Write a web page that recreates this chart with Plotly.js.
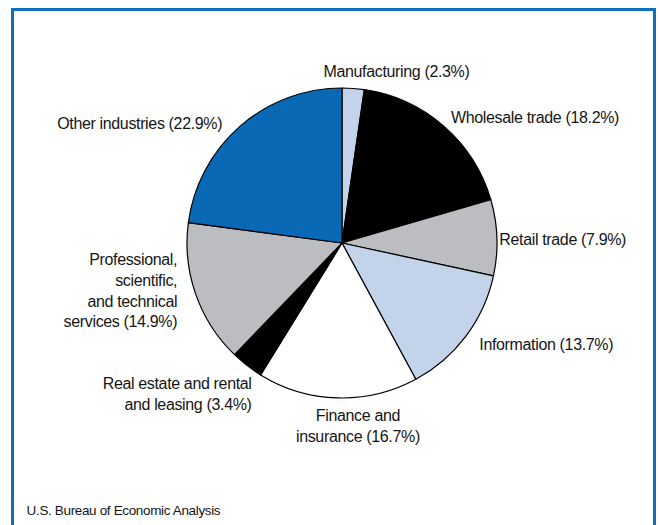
<!DOCTYPE html>
<html>
<head>
<meta charset="utf-8">
<script src="https://cdn.plot.ly/plotly-3.0.1.min.js"></script>
<style>html,body{margin:0;padding:0;background:#fff;}#chart{width:660px;height:525px;}
#chart text.annotation-text{letter-spacing:-0.35px;}</style>
</head>
<body>
<div id="chart"></div>
<script>
const industries = ["Manufacturing", "Wholesale trade", "Retail trade", "Information", "Finance and insurance", "Real estate and rental and leasing", "Professional, scientific, and technical services", "Other industries"];
const shares = [2.3, 18.2, 7.9, 13.7, 16.7, 3.4, 14.9, 22.9];
const sliceColors = ["#c3d3ea", "#000000", "#bbbdc0", "#c3d3ea", "#ffffff", "#000000", "#bbbdc0", "#0a69b4"];
const labelTexts = ["Manufacturing (2.3%)", "Wholesale trade (18.2%)", "Retail trade (7.9%)", "Information (13.7%)", "Finance and<br>insurance (16.7%)", "Real estate and rental<br>and leasing (3.4%)", "Professional,<br>scientific,<br>and technical<br>services (14.9%)", "Other industries (22.9%)"];
const sourceText = "U.S. Bureau of Economic Analysis";

const W = 660, H = 525;
// label anchor positions in pixels (x, y, xanchor, align)
const labelPos = [
  [396, 71, "center", "center"],
  [535, 117, "center", "center"],
  [562, 239, "center", "center"],
  [546, 344, "center", "center"],
  [358, 426, "center", "center"],
  [254, 394, "right", "right"],
  [179, 290, "right", "right"],
  [139, 123, "center", "center"]
];

const font = {family: "Liberation Sans, Arial, sans-serif", size: 16, color: "#151515"};

const annotations = labelTexts.map((t, i) => ({
  text: t, xref: "paper", yref: "paper",
  x: labelPos[i][0] / W, y: 1 - labelPos[i][1] / H,
  xanchor: labelPos[i][2], yanchor: "middle", align: labelPos[i][3],
  showarrow: false, font: font
}));
annotations.push({
  text: sourceText, xref: "paper", yref: "paper",
  x: 19 / W, y: 1 - 510 / H, xanchor: "left", yanchor: "middle",
  showarrow: false, font: {family: "Liberation Sans, Arial, sans-serif", size: 13.5, color: "#151515"}
});

const cx = 342, cy = 243, r = 155;
const data = [{
  type: "pie",
  labels: industries,
  values: shares,
  sort: false,
  direction: "clockwise",
  rotation: 0,
  textinfo: "none",
  hoverinfo: "label+percent",
  marker: {colors: sliceColors, line: {color: "#000", width: 1.2}},
  domain: {x: [(cx - r) / W, (cx + r) / W], y: [1 - (cy + r) / H, 1 - (cy - r) / H]}
}];

const layout = {
  width: W, height: H,
  margin: {l: 0, r: 0, t: 0, b: 0},
  paper_bgcolor: "#fff",
  showlegend: false,
  annotations: annotations,
  shapes: [{
    type: "rect", xref: "paper", yref: "paper",
    x0: 12.5 / W, x1: 654.5 / W, y0: -0.05, y1: 1 - 9.5 / H,
    line: {color: "#0d6fbf", width: 3}, fillcolor: "rgba(0,0,0,0)"
  }]
};

Plotly.newPlot("chart", data, layout, {displayModeBar: false, staticPlot: true});
</script>
</body>
</html>
